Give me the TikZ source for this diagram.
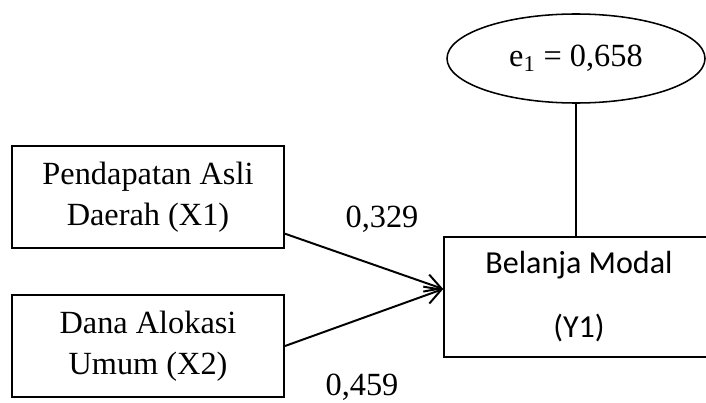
\documentclass[tikz,border=0pt]{standalone}
\usepackage{fontspec}
\setmainfont{Liberation Serif}
\newfontfamily\calibri{Carlito}
\usepackage{tikz}
\usetikzlibrary{shapes.geometric, arrows.meta, positioning, calc}
\tikzstyle{BOXX}  = [draw=black,        % color for LINES
                     line width=1.4pt,  % control line width.
                     text centered,
                     rectangle,         % Box shape
                     inner sep=0pt,
                     minimum width=6.8cm,
                     minimum height=2.55cm,
                     font=\fontsize{23}{29}\selectfont]
\tikzstyle{BOXY}  = [draw=black,
                     line width=1.1pt,
                     text centered,
                     rectangle,
                     inner sep=0pt,
                     minimum width=6.75cm,
                     minimum height=3cm,
                     font=\calibri\fontsize{22.8}{45.5}\selectfont]
\tikzstyle{ERR}   = [draw=black, line width=1.1pt, ellipse, inner sep=0pt,
                     minimum width=6.45cm, minimum height=2.225cm,
                     font=\fontsize{23}{29}\selectfont]
\tikzstyle{COEF}  = [draw=none, anchor=base, inner sep=0pt, font=\fontsize{23}{29}\selectfont]
\tikzstyle{ARROW} = [line width=1.4pt, -{Straight Barb[length=0.4cm, width=0.45cm]}]
\tikzstyle{LINE}  = [line width=0.8pt]
\begin{document}
\begin{tikzpicture}[node distance=2cm]
		\useasboundingbox (0,0) rectangle (17.65,-10.05);
		
		% Independent variables
		\node(pad)[BOXX, align=center] at (3.7,-4.925)
		{
			Pendapatan Asli\\
			Daerah (X1)
		};
		\node(dau)[BOXX, align=center, below of = pad, node distance = 3.725cm]
		{
			Dana Alokasi\\
			Umum (X2)
		};
		
		
		
		% Dependent variable
		\node(bm)[BOXY, align=center, right of = pad, node distance = 10.775cm, yshift=-2.5cm]
		{
			Belanja Modal\\
			(Y1)
		};
		
		
		
		% Error term
		\node(err)[ERR, above of = bm, node distance = 5.9625cm, xshift=-0.075cm]
		{
			e\textsubscript{1} = 0,658
		};
		
		
		
		% Path coefficients
		\node(c1)[COEF] at (9.55,-5.675) {0,329};
		\node(c2)[COEF] at (9.05,-9.88) {0,459};
		
		
		
		% Arrows to Belanja Modal
		\draw[ARROW] (pad.-15.6) -- ([yshift=0.2cm]bm.west);
		\draw[ARROW] (dau.east) -- ([yshift=0.2cm]bm.west);
		% Error to Belanja Modal
		\draw[LINE] (err.south) -- (err.south |- bm.north);
		
\end{tikzpicture}
\end{document}
